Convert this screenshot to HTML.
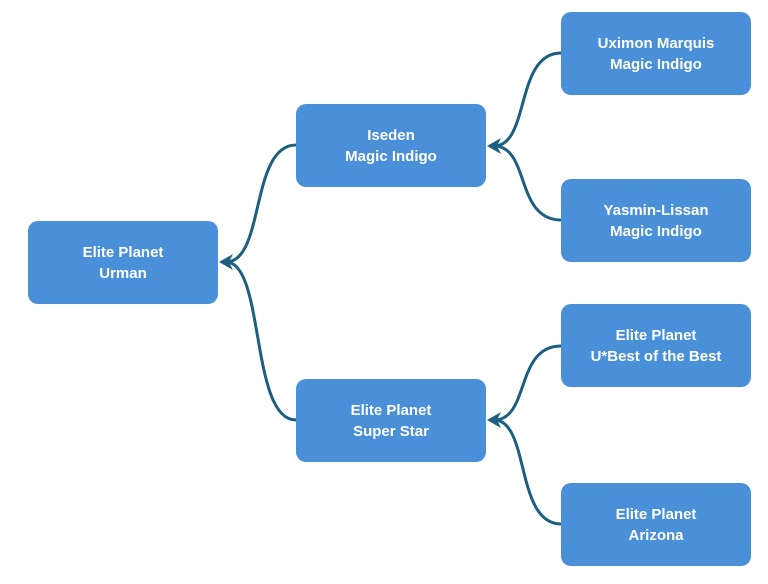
<!DOCTYPE html>
<html><head><style>
body{margin:0;width:768px;height:584px;background:#fff;overflow:hidden;position:relative;font-family:"Liberation Sans",sans-serif}
.b{position:absolute;width:190px;height:83px;background:#4a90d9;border-radius:10px;color:#fff;font-weight:bold;font-size:15px;line-height:21px;display:flex;align-items:center;justify-content:center;text-align:center}
svg{position:absolute;left:0;top:0;z-index:2}
</style></head><body>
<div class="b" style="left:28px;top:221px">Elite Planet<br>Urman</div>
<div class="b" style="left:296px;top:104px">Iseden<br>Magic Indigo</div>
<div class="b" style="left:296px;top:379px">Elite Planet<br>Super Star</div>
<div class="b" style="left:561px;top:12px">Uximon Marquis<br>Magic Indigo</div>
<div class="b" style="left:561px;top:179px">Yasmin-Lissan<br>Magic Indigo</div>
<div class="b" style="left:561px;top:304px">Elite Planet<br>U*Best of the Best</div>
<div class="b" style="left:561px;top:483px">Elite Planet<br>Arizona</div>
<svg width="768" height="584">
<g fill="none" stroke="#1d5f80" stroke-width="3">
<path d="M296,145 C250,145 265,262 226,262"/>
<path d="M296,420 C250,420 265,262 226,262"/>
<path d="M561,53 C515,53 530,146 494,146"/>
<path d="M561,220 C515,220 530,146 494,146"/>
<path d="M561,346 C515,346 530,420 494,420"/>
<path d="M561,524 C515,524 530,420 494,420"/>
</g>
<g fill="#1d5f80">
<path d="M219,262 L233,254 L229,262 L233,270 Z"/>
<path d="M487,146 L501,138 L497,146 L501,154 Z"/>
<path d="M487,420 L501,412 L497,420 L501,428 Z"/>
</g></svg>
</body></html>
